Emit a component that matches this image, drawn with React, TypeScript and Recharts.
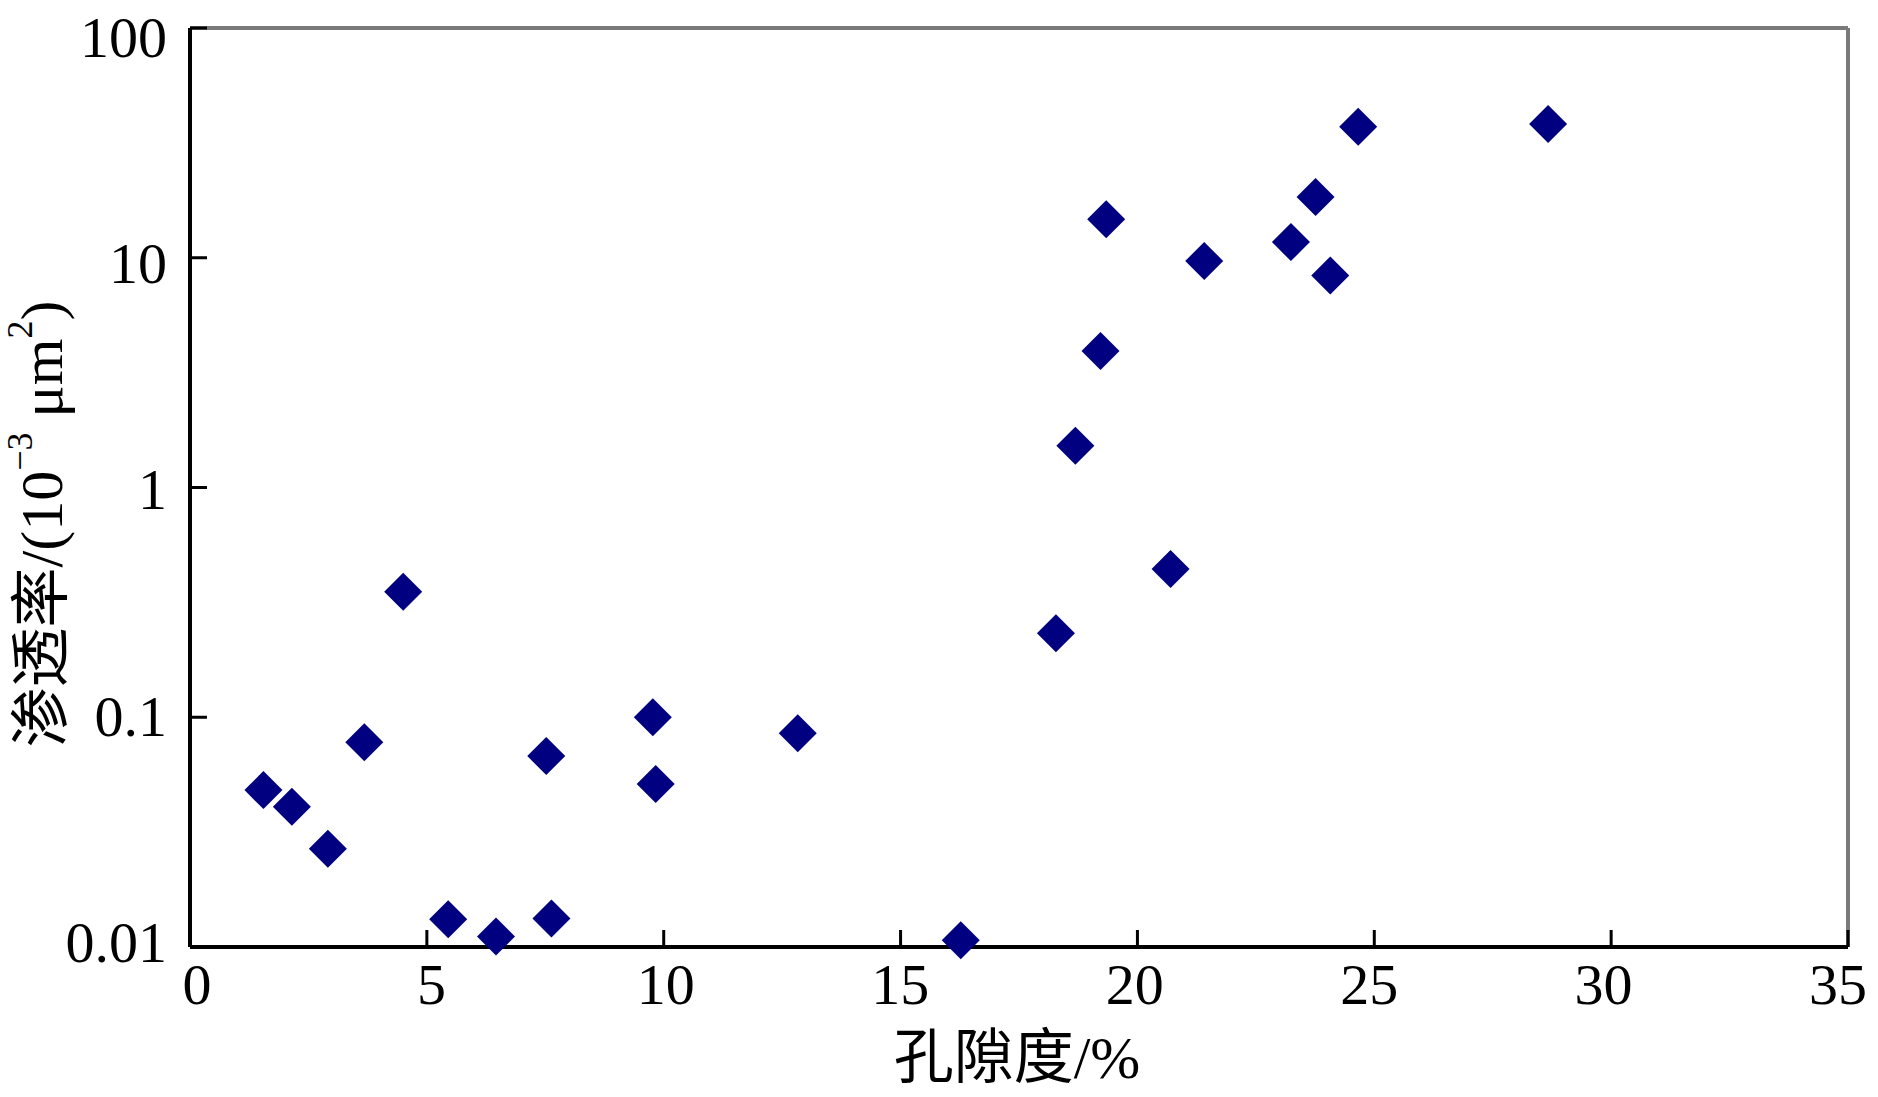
import React from "react";
import {
  ScatterChart,
  Scatter,
  XAxis,
  YAxis,
  ReferenceLine,
} from "recharts";

// porosity (%) and permeability (10^-3 μm²)
const porosity = [
  1.55, 2.15, 2.91, 3.68, 4.5, 5.45, 6.46, 7.52, 7.63, 9.77, 9.83, 12.83,
  16.27, 18.28, 18.69, 19.22, 19.34, 20.7, 21.41, 23.24, 23.76, 24.07, 24.66,
  28.67,
];
const permeability = [
  0.0482, 0.0408, 0.0268, 0.0778, 0.352, 0.0132, 0.0111, 0.0678, 0.0133,
  0.1, 0.0512, 0.0851, 0.0107, 0.232, 1.52, 3.93, 14.7, 0.442, 9.68, 11.7,
  18.4, 8.38, 37.2, 38.2,
];
const xTicks = [0, 5, 10, 15, 20, 25, 30, 35];
const yTicks = [0.01, 0.1, 1, 10, 100];

const points = porosity.map((x, i) => ({ x, y: permeability[i] }));

const W = 1878;
const H = 1097;
const PLOT_LEFT = 190;
const PLOT_RIGHT = 1848;
const PLOT_BOTTOM = 947;
const SERIF = '"Liberation Serif", "Times New Roman", "Noto Sans CJK SC", serif';
const TICK_FONT = 58;
const TICK_LEN = 17;

// y tick: inward tick mark plus label to the left
function YTick(props: any) {
  const { x, y, payload } = props;
  const dy = 15 + (PLOT_BOTTOM - y) * 0.015;
  return (
    <g>
      <line x1={x} y1={y} x2={x + TICK_LEN} y2={y} stroke="#000" strokeWidth={3} />
      <text
        x={x - 23}
        y={y + dy}
        textAnchor="end"
        fontFamily={SERIF}
        fontSize={TICK_FONT}
        fill="#000"
      >
        {payload.value}
      </text>
    </g>
  );
}

// x tick: inward tick mark plus label below
function XTick(props: any) {
  const { x, y, payload } = props;
  const dx = 7 - (17 * (x - PLOT_LEFT)) / (PLOT_RIGHT - PLOT_LEFT);
  return (
    <g>
      <line x1={x} y1={y} x2={x} y2={y - TICK_LEN} stroke="#000" strokeWidth={3} />
      <text
        x={x + dx}
        y={y + 57}
        textAnchor="middle"
        fontFamily={SERIF}
        fontSize={TICK_FONT}
        fill="#000"
      >
        {payload.value}
      </text>
    </g>
  );
}

// filled square turned 45 degrees
function Diamond(props: any) {
  const { cx, cy } = props;
  const r = 19;
  return (
    <polygon
      points={`${cx},${cy - r} ${cx + r},${cy} ${cx},${cy + r} ${cx - r},${cy}`}
      fill="#000080"
    />
  );
}

export default function App() {
  return (
    <div
      style={{
        position: "absolute",
        left: 0,
        top: 0,
        width: W,
        height: H,
        background: "#fff",
      }}
    >
      <ScatterChart
        width={W}
        height={H}
        margin={{ top: 28, right: W - PLOT_RIGHT, bottom: 0, left: 0 }}
      >
        <ReferenceLine y={100} stroke="#7a7a7a" strokeWidth={4} />
        <ReferenceLine x={35} stroke="#7a7a7a" strokeWidth={4} />
        <XAxis
          type="number"
          dataKey="x"
          domain={[0, 35]}
          ticks={xTicks}
          height={H - PLOT_BOTTOM}
          tickSize={0}
          tickMargin={0}
          tickLine={false}
          axisLine={{ stroke: "#000", strokeWidth: 4 }}
          tick={<XTick />}
        />
        <YAxis
          type="number"
          dataKey="y"
          scale="log"
          domain={[0.01, 100]}
          ticks={yTicks}
          width={PLOT_LEFT}
          tickSize={0}
          tickMargin={0}
          tickLine={false}
          axisLine={{ stroke: "#000", strokeWidth: 4 }}
          tick={<YTick />}
        />
        <Scatter data={points} shape={<Diamond />} isAnimationActive={false} />
      </ScatterChart>
      <svg
        width={W}
        height={H}
        style={{ position: "absolute", left: 0, top: 0, pointerEvents: "none" }}
      >
        <text
          x={1017}
          y={1058}
          textAnchor="middle"
          dominantBaseline="central"
          fontFamily={SERIF}
          fontSize={60}
          fill="#000"
        >
          孔隙度/%
        </text>
        <text
          transform="translate(42,524) rotate(-90)"
          textAnchor="middle"
          dominantBaseline="central"
          fontFamily={SERIF}
          fontSize={60}
          fill="#000"
        >
          渗透率/(10
          <tspan fontSize={36} dy={-22}>
            −3
          </tspan>
          <tspan dy={22}> μm</tspan>
          <tspan fontSize={36} dy={-22}>
            2
          </tspan>
          <tspan dy={22}>)</tspan>
        </text>
      </svg>
    </div>
  );
}
